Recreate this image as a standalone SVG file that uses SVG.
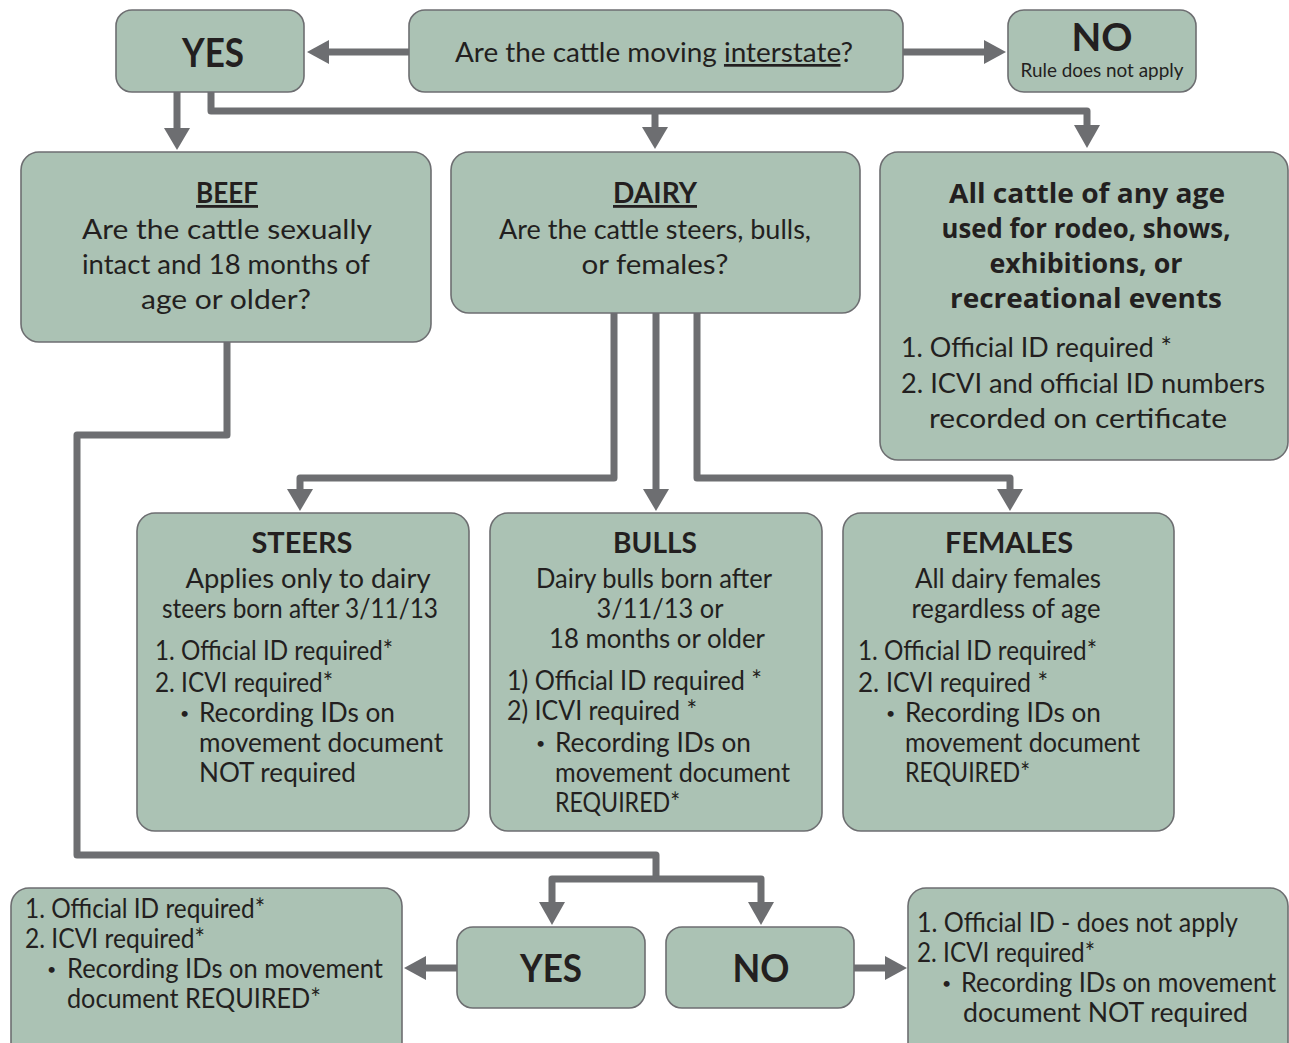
<svg xmlns="http://www.w3.org/2000/svg" width="1289" height="1043" viewBox="0 0 1289 1043">
<style>
.box{fill:#abc2b4;stroke:#6d6e71;stroke-width:1.6}
.t{font-family:Lato,"Noto Sans","DejaVu Sans",sans-serif;font-size:26px;fill:#231f20}
.c{text-anchor:middle}
.b{font-family:Lato,"Noto Sans",sans-serif;font-size:16px;fill:#231f20}
.h{font-family:Lato,"Noto Sans",sans-serif;font-weight:700;font-size:29px;fill:#231f20;text-anchor:middle}
.big{font-family:Lato,"Noto Sans",sans-serif;font-weight:700;font-size:40px;fill:#231f20;text-anchor:middle}
.hb{font-family:"Open Sans","Noto Sans",sans-serif;font-weight:700;font-size:26px;fill:#231f20;text-anchor:middle}
.u{text-decoration:underline}
.ln{fill:none;stroke:#6d6e71;stroke-width:7;stroke-linejoin:round}
.ah{fill:#6d6e71}
</style>
<rect width="1289" height="1043" fill="#ffffff"/>
<g id="connectors">
<path class="ln" d="M409,52 H328"/>
<polygon class="ah" points="307,52 329,40 329,64"/>
<path class="ln" d="M903,52 H985"/>
<polygon class="ah" points="1006,52 984,40 984,64"/>
<path class="ln" d="M177,92 V129"/>
<polygon class="ah" points="177,150 164,128 190,128"/>
<path class="ln" d="M211,92 V111 H1087 V126"/>
<polygon class="ah" points="1087,148 1074,125 1100,125"/>
<path class="ln" d="M655,111 V128"/>
<polygon class="ah" points="655,149 642,127 668,127"/>
<path class="ln" d="M614,313 V478 H300 V490"/>
<polygon class="ah" points="300,511 287,489 313,489"/>
<path class="ln" d="M656,313 V490"/>
<polygon class="ah" points="656,511 643,489 669,489"/>
<path class="ln" d="M697,313 V478 H1010 V490"/>
<polygon class="ah" points="1010,511 997,489 1023,489"/>
<path class="ln" d="M227,342 V435 H77 V855 H656 V879"/>
<path class="ln" d="M552,904 V879 H761 V904"/>
<polygon class="ah" points="552,925 539,902 565,902"/>
<polygon class="ah" points="761,925 748,902 774,902"/>
<path class="ln" d="M457,968 H425"/>
<polygon class="ah" points="404,968 426,956 426,980"/>
<path class="ln" d="M854,968 H886"/>
<polygon class="ah" points="907,968 885,956 885,980"/>
</g>
<g id="yes-top">
<rect class="box" x="116" y="10" width="188" height="82" rx="16"/>
<text class="big" x="213" y="67" textLength="62" lengthAdjust="spacingAndGlyphs">YES</text>
</g>
<g id="question">
<rect class="box" x="409" y="10" width="494" height="82" rx="16"/>
<text class="t c" x="654" y="62" textLength="398" lengthAdjust="spacingAndGlyphs" style="font-size:27px">Are the cattle moving <tspan class="u">interstate</tspan>?</text>
</g>
<g id="no-top">
<rect class="box" x="1008" y="10" width="188" height="82" rx="16"/>
<text class="big" x="1102" y="51" style="font-size:38px" textLength="61" lengthAdjust="spacingAndGlyphs">NO</text>
<text class="t c" x="1102" y="77" style="font-size:19px" textLength="163" lengthAdjust="spacingAndGlyphs">Rule does not apply</text>
</g>
<g id="beef">
<rect class="box" x="21" y="152" width="410" height="190" rx="18"/>
<text class="h u" x="227" y="203" style="font-size:28px" textLength="62" lengthAdjust="spacingAndGlyphs">BEEF</text>
<text class="t c" x="227" y="239" textLength="290" lengthAdjust="spacingAndGlyphs">Are the cattle sexually</text>
<text class="t c" x="226" y="274" textLength="288" lengthAdjust="spacingAndGlyphs">intact and 18 months of</text>
<text class="t c" x="226" y="309" textLength="170" lengthAdjust="spacingAndGlyphs">age or older?</text>
</g>
<g id="dairy">
<rect class="box" x="451" y="152" width="409" height="161" rx="18"/>
<text class="h u" x="655" y="203" style="font-size:28px" textLength="84" lengthAdjust="spacingAndGlyphs">DAIRY</text>
<text class="t c" x="655" y="239" textLength="312" lengthAdjust="spacingAndGlyphs">Are the cattle steers, bulls,</text>
<text class="t c" x="655" y="274" textLength="147" lengthAdjust="spacingAndGlyphs">or females?</text>
</g>
<g id="all-cattle">
<rect class="box" x="880" y="152" width="408" height="308" rx="18"/>
<text class="hb" x="1087" y="203" textLength="276" lengthAdjust="spacingAndGlyphs">All cattle of any age</text>
<text class="hb" x="1086" y="238" textLength="289" lengthAdjust="spacingAndGlyphs">used for rodeo, shows,</text>
<text class="hb" x="1086" y="273" textLength="193" lengthAdjust="spacingAndGlyphs">exhibitions, or</text>
<text class="hb" x="1086" y="308" textLength="272" lengthAdjust="spacingAndGlyphs">recreational events</text>
<text class="t" x="901" y="357" textLength="271" lengthAdjust="spacingAndGlyphs">1. Official ID required *</text>
<text class="t" x="901" y="393" textLength="364" lengthAdjust="spacingAndGlyphs">2. ICVI and official ID numbers</text>
<text class="t" x="929" y="428" textLength="298" lengthAdjust="spacingAndGlyphs">recorded on certificate</text>
</g>
<g id="steers">
<rect class="box" x="137" y="513" width="332" height="318" rx="18"/>
<text class="h" x="302" y="553" textLength="101" lengthAdjust="spacingAndGlyphs">STEERS</text>
<text class="t c" x="308" y="588" textLength="245" lengthAdjust="spacingAndGlyphs">Applies only to dairy</text>
<text class="t c" x="300" y="618" textLength="276" lengthAdjust="spacingAndGlyphs">steers born after 3/11/13</text>
<text class="t" x="155" y="660" textLength="238" lengthAdjust="spacingAndGlyphs">1. Official ID required*</text>
<text class="t" x="155" y="692" textLength="178" lengthAdjust="spacingAndGlyphs">2. ICVI required*</text>
<text class="b" x="180" y="719">•</text>
<text class="t" x="199" y="722" textLength="196" lengthAdjust="spacingAndGlyphs">Recording IDs on</text>
<text class="t" x="199" y="752" textLength="244" lengthAdjust="spacingAndGlyphs">movement document</text>
<text class="t" x="199" y="782" textLength="157" lengthAdjust="spacingAndGlyphs">NOT required</text>
</g>
<g id="bulls">
<rect class="box" x="490" y="513" width="332" height="318" rx="18"/>
<text class="h" x="655" y="553" textLength="84" lengthAdjust="spacingAndGlyphs">BULLS</text>
<text class="t c" x="654" y="588" textLength="236" lengthAdjust="spacingAndGlyphs">Dairy bulls born after</text>
<text class="t c" x="660" y="618" textLength="127" lengthAdjust="spacingAndGlyphs">3/11/13 or</text>
<text class="t c" x="657" y="648" textLength="216" lengthAdjust="spacingAndGlyphs">18 months or older</text>
<text class="t" x="507" y="690" textLength="255" lengthAdjust="spacingAndGlyphs">1) Official ID required *</text>
<text class="t" x="507" y="720" textLength="190" lengthAdjust="spacingAndGlyphs">2) ICVI required *</text>
<text class="b" x="536" y="749">•</text>
<text class="t" x="555" y="752" textLength="196" lengthAdjust="spacingAndGlyphs">Recording IDs on</text>
<text class="t" x="555" y="782" textLength="235" lengthAdjust="spacingAndGlyphs">movement document</text>
<text class="t" x="555" y="812" textLength="125" lengthAdjust="spacingAndGlyphs">REQUIRED*</text>
</g>
<g id="females">
<rect class="box" x="843" y="513" width="331" height="318" rx="18"/>
<text class="h" x="1009" y="553" textLength="128" lengthAdjust="spacingAndGlyphs">FEMALES</text>
<text class="t c" x="1008" y="588" textLength="186" lengthAdjust="spacingAndGlyphs">All dairy females</text>
<text class="t c" x="1006" y="618" textLength="189" lengthAdjust="spacingAndGlyphs">regardless of age</text>
<text class="t" x="858" y="660" textLength="239" lengthAdjust="spacingAndGlyphs">1. Official ID required*</text>
<text class="t" x="858" y="692">2.</text>
<text class="t" x="886" y="692" textLength="162" lengthAdjust="spacingAndGlyphs">ICVI required *</text>
<text class="b" x="886" y="719">•</text>
<text class="t" x="905" y="722" textLength="196" lengthAdjust="spacingAndGlyphs">Recording IDs on</text>
<text class="t" x="905" y="752" textLength="235" lengthAdjust="spacingAndGlyphs">movement document</text>
<text class="t" x="905" y="782" textLength="125" lengthAdjust="spacingAndGlyphs">REQUIRED*</text>
</g>
<g id="beef-yes-result">
<rect class="box" x="11" y="888" width="391" height="175" rx="18"/>
<text class="t" x="25" y="918" textLength="240" lengthAdjust="spacingAndGlyphs">1. Official ID required*</text>
<text class="t" x="25" y="948" textLength="180" lengthAdjust="spacingAndGlyphs">2. ICVI required*</text>
<text class="b" x="47" y="975">•</text>
<text class="t" x="67" y="978" textLength="316" lengthAdjust="spacingAndGlyphs">Recording IDs on movement</text>
<text class="t" x="67" y="1008" textLength="254" lengthAdjust="spacingAndGlyphs">document REQUIRED*</text>
</g>
<g id="yes-bottom">
<rect class="box" x="457" y="927" width="188" height="81" rx="16"/>
<text class="big" x="551" y="982" style="font-size:38px" textLength="62" lengthAdjust="spacingAndGlyphs">YES</text>
</g>
<g id="no-bottom">
<rect class="box" x="666" y="927" width="188" height="81" rx="16"/>
<text class="big" x="761" y="982" style="font-size:38px" textLength="57" lengthAdjust="spacingAndGlyphs">NO</text>
</g>
<g id="beef-no-result">
<rect class="box" x="908" y="888" width="380" height="175" rx="18"/>
<text class="t" x="917" y="932" textLength="321" lengthAdjust="spacingAndGlyphs">1. Official ID - does not apply</text>
<text class="t" x="917" y="962" textLength="178" lengthAdjust="spacingAndGlyphs">2. ICVI required*</text>
<text class="b" x="942" y="989">•</text>
<text class="t" x="961" y="992" textLength="315" lengthAdjust="spacingAndGlyphs">Recording IDs on movement</text>
<text class="t" x="963" y="1022" textLength="285" lengthAdjust="spacingAndGlyphs">document NOT required</text>
</g>
</svg>
